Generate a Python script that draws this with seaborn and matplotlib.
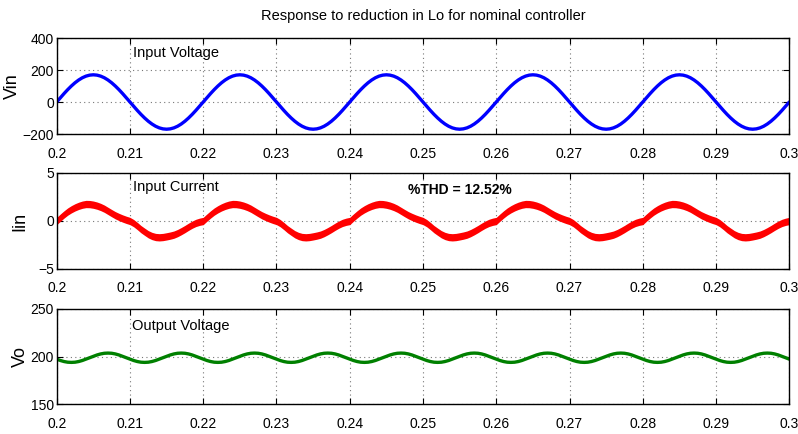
import numpy as np
import pandas as pd
import matplotlib
matplotlib.use("Agg")
import matplotlib.pyplot as plt
import seaborn as sns

# Simulation time window (s), 0.5 ms sample grid
t_start, t_end = 0.2, 0.3
n_samples = 201

# Input voltage (V), 50 Hz supply
vin = [
    0, 26.6, 52.5, 77.2, 99.9, 120.2, 137.5, 151.5, 161.7, 167.9, 170.0, 167.9, 161.7, 151.5, 137.5, 120.2, 99.9, 77.2, 52.5, 26.6,
    0, -26.6, -52.5, -77.2, -99.9, -120.2, -137.5, -151.5, -161.7, -167.9, -170.0, -167.9, -161.7, -151.5, -137.5, -120.2, -99.9, -77.2, -52.5, -26.6,
    0, 26.6, 52.5, 77.2, 99.9, 120.2, 137.5, 151.5, 161.7, 167.9, 170.0, 167.9, 161.7, 151.5, 137.5, 120.2, 99.9, 77.2, 52.5, 26.6,
    0, -26.6, -52.5, -77.2, -99.9, -120.2, -137.5, -151.5, -161.7, -167.9, -170.0, -167.9, -161.7, -151.5, -137.5, -120.2, -99.9, -77.2, -52.5, -26.6,
    0, 26.6, 52.5, 77.2, 99.9, 120.2, 137.5, 151.5, 161.7, 167.9, 170.0, 167.9, 161.7, 151.5, 137.5, 120.2, 99.9, 77.2, 52.5, 26.6,
    0, -26.6, -52.5, -77.2, -99.9, -120.2, -137.5, -151.5, -161.7, -167.9, -170.0, -167.9, -161.7, -151.5, -137.5, -120.2, -99.9, -77.2, -52.5, -26.6,
    0, 26.6, 52.5, 77.2, 99.9, 120.2, 137.5, 151.5, 161.7, 167.9, 170.0, 167.9, 161.7, 151.5, 137.5, 120.2, 99.9, 77.2, 52.5, 26.6,
    0, -26.6, -52.5, -77.2, -99.9, -120.2, -137.5, -151.5, -161.7, -167.9, -170.0, -167.9, -161.7, -151.5, -137.5, -120.2, -99.9, -77.2, -52.5, -26.6,
    0, 26.6, 52.5, 77.2, 99.9, 120.2, 137.5, 151.5, 161.7, 167.9, 170.0, 167.9, 161.7, 151.5, 137.5, 120.2, 99.9, 77.2, 52.5, 26.6,
    0, -26.6, -52.5, -77.2, -99.9, -120.2, -137.5, -151.5, -161.7, -167.9, -170.0, -167.9, -161.7, -151.5, -137.5, -120.2, -99.9, -77.2, -52.5, -26.6,
    0,
]

# Input current (A), mean of the switching band
iin = [
    0.0, 0.35, 0.68, 0.98, 1.22, 1.42, 1.58, 1.70, 1.77, 1.76, 1.70, 1.60, 1.46, 1.28, 1.05, 0.82, 0.60, 0.42, 0.26, 0.12,
    0.0, -0.22, -0.52, -0.85, -1.12, -1.38, -1.56, -1.67, -1.70, -1.67, -1.60, -1.52, -1.42, -1.26, -1.06, -0.84, -0.60, -0.38, -0.20, -0.08,
    0.0, 0.35, 0.68, 0.98, 1.22, 1.42, 1.58, 1.70, 1.77, 1.76, 1.70, 1.60, 1.46, 1.28, 1.05, 0.82, 0.60, 0.42, 0.26, 0.12,
    0.0, -0.22, -0.52, -0.85, -1.12, -1.38, -1.56, -1.67, -1.70, -1.67, -1.60, -1.52, -1.42, -1.26, -1.06, -0.84, -0.60, -0.38, -0.20, -0.08,
    0.0, 0.35, 0.68, 0.98, 1.22, 1.42, 1.58, 1.70, 1.77, 1.76, 1.70, 1.60, 1.46, 1.28, 1.05, 0.82, 0.60, 0.42, 0.26, 0.12,
    0.0, -0.22, -0.52, -0.85, -1.12, -1.38, -1.56, -1.67, -1.70, -1.67, -1.60, -1.52, -1.42, -1.26, -1.06, -0.84, -0.60, -0.38, -0.20, -0.08,
    0.0, 0.35, 0.68, 0.98, 1.22, 1.42, 1.58, 1.70, 1.77, 1.76, 1.70, 1.60, 1.46, 1.28, 1.05, 0.82, 0.60, 0.42, 0.26, 0.12,
    0.0, -0.22, -0.52, -0.85, -1.12, -1.38, -1.56, -1.67, -1.70, -1.67, -1.60, -1.52, -1.42, -1.26, -1.06, -0.84, -0.60, -0.38, -0.20, -0.08,
    0.0, 0.35, 0.68, 0.98, 1.22, 1.42, 1.58, 1.70, 1.77, 1.76, 1.70, 1.60, 1.46, 1.28, 1.05, 0.82, 0.60, 0.42, 0.26, 0.12,
    0.0, -0.22, -0.52, -0.85, -1.12, -1.38, -1.56, -1.67, -1.70, -1.67, -1.60, -1.52, -1.42, -1.26, -1.06, -0.84, -0.60, -0.38, -0.20, -0.08,
    0.0,
]
# Half-width of the high-frequency switching ripple on the current (A)
iin_ripple = 0.38

# Output voltage (V), 100 Hz ripple
vo = [
    197.2, 195.8, 194.7, 194.0, 193.8, 194.0, 194.7, 195.8, 197.2, 198.7, 200.2, 201.6, 202.7, 203.4, 203.6, 203.4, 202.7, 201.6, 200.2, 198.7,
    197.2, 195.8, 194.7, 194.0, 193.8, 194.0, 194.7, 195.8, 197.2, 198.7, 200.2, 201.6, 202.7, 203.4, 203.6, 203.4, 202.7, 201.6, 200.2, 198.7,
    197.2, 195.8, 194.7, 194.0, 193.8, 194.0, 194.7, 195.8, 197.2, 198.7, 200.2, 201.6, 202.7, 203.4, 203.6, 203.4, 202.7, 201.6, 200.2, 198.7,
    197.2, 195.8, 194.7, 194.0, 193.8, 194.0, 194.7, 195.8, 197.2, 198.7, 200.2, 201.6, 202.7, 203.4, 203.6, 203.4, 202.7, 201.6, 200.2, 198.7,
    197.2, 195.8, 194.7, 194.0, 193.8, 194.0, 194.7, 195.8, 197.2, 198.7, 200.2, 201.6, 202.7, 203.4, 203.6, 203.4, 202.7, 201.6, 200.2, 198.7,
    197.2, 195.8, 194.7, 194.0, 193.8, 194.0, 194.7, 195.8, 197.2, 198.7, 200.2, 201.6, 202.7, 203.4, 203.6, 203.4, 202.7, 201.6, 200.2, 198.7,
    197.2, 195.8, 194.7, 194.0, 193.8, 194.0, 194.7, 195.8, 197.2, 198.7, 200.2, 201.6, 202.7, 203.4, 203.6, 203.4, 202.7, 201.6, 200.2, 198.7,
    197.2, 195.8, 194.7, 194.0, 193.8, 194.0, 194.7, 195.8, 197.2, 198.7, 200.2, 201.6, 202.7, 203.4, 203.6, 203.4, 202.7, 201.6, 200.2, 198.7,
    197.2, 195.8, 194.7, 194.0, 193.8, 194.0, 194.7, 195.8, 197.2, 198.7, 200.2, 201.6, 202.7, 203.4, 203.6, 203.4, 202.7, 201.6, 200.2, 198.7,
    197.2, 195.8, 194.7, 194.0, 193.8, 194.0, 194.7, 195.8, 197.2, 198.7, 200.2, 201.6, 202.7, 203.4, 203.6, 203.4, 202.7, 201.6, 200.2, 198.7,
    197.2,
]

x_ticks = [0.2, 0.21, 0.22, 0.23, 0.24, 0.25, 0.26, 0.27, 0.28, 0.29, 0.3]
x_tick_labels = ["0.2", "0.21", "0.22", "0.23", "0.24", "0.25", "0.26", "0.27", "0.28", "0.29", "0.3"]

vin_ticks = [-200, 0, 200, 400]
iin_ticks = [-5, 0, 5]
vo_ticks = [150, 200, 250]

title = "Response to reduction in Lo for nominal controller"
thd_text = "%THD = 12.52%"

t = np.linspace(t_start, t_end, n_samples)
df = pd.DataFrame({"t": t, "Vin": vin, "Iin": iin, "Vo": vo})

sns.set_style("ticks")
plt.rcParams["font.family"] = ["Liberation Sans", "DejaVu Sans"]
plt.rcParams["text.color"] = "black"
plt.rcParams["axes.labelcolor"] = "black"
plt.rcParams["axes.unicode_minus"] = True

fig = plt.figure(figsize=(7.98, 4.34), dpi=100)
W, H = 798.0, 434.0
left_px, right_px = 56.7, 789.3
boxes = [(38, 134), (173, 269), (309, 404)]
axes = []
for top, bot in boxes:
    ax = fig.add_axes([left_px / W, 1 - bot / H, (right_px - left_px) / W, (bot - top) / H])
    axes.append(ax)

ax_vin, ax_iin, ax_vo = axes

sns.lineplot(data=df, x="t", y="Vin", ax=ax_vin, color="#0000ff", linewidth=2.4, estimator=None)
ax_iin.fill_between(df["t"], df["Iin"] - iin_ripple, df["Iin"] + iin_ripple, color="#ff0000", linewidth=0)
sns.lineplot(data=df, x="t", y="Iin", ax=ax_iin, color="#ff0000", linewidth=2.0, estimator=None)
sns.lineplot(data=df, x="t", y="Vo", ax=ax_vo, color="#008000", linewidth=2.4, estimator=None)

settings = [
    (ax_vin, vin_ticks, "Vin", -0.0487),
    (ax_iin, iin_ticks, "Iin", -0.0390),
    (ax_vo, vo_ticks, "Vo", -0.0377),
]
for ax, yt, lab, lx in settings:
    ax.set_xlim(t_start, t_end)
    ax.set_ylim(yt[0], yt[-1])
    ax.set_xticks(x_ticks)
    ax.set_xticklabels(x_tick_labels)
    ax.set_yticks(yt)
    ax.set_xlabel("")
    ax.set_ylabel(lab, fontsize=13)
    ax.yaxis.set_label_coords(lx, 0.5)
    ax.tick_params(axis="both", direction="in", length=4.5, width=0.8, top=True, right=True,
                   labelsize=10, colors="black")
    ax.tick_params(axis="x", pad=9)
    ax.tick_params(axis="y", pad=2)
    ax.grid(True, linestyle=(0, (1, 3)), color="#777777", linewidth=0.8)
    for sp in ax.spines.values():
        sp.set_visible(True)
        sp.set_color("black")
        sp.set_linewidth(1.0)

ax_vin.text(0.21046, 304, "Input Voltage", fontsize=10.5, va="center", ha="left")
ax_iin.text(0.21037, 3.51, "Input Current", fontsize=10.5, va="center", ha="left")
ax_vo.text(0.21024, 232.4, "Output Voltage", fontsize=10.5, va="center", ha="left")
ax_iin.text(0.248, 3.23, thd_text, fontsize=10, fontweight="bold", va="center", ha="left")

fig.text(423 / W, 1 - 16 / H, title, fontsize=10.5, ha="center", va="center")

fig.savefig("out.png", dpi=100)
